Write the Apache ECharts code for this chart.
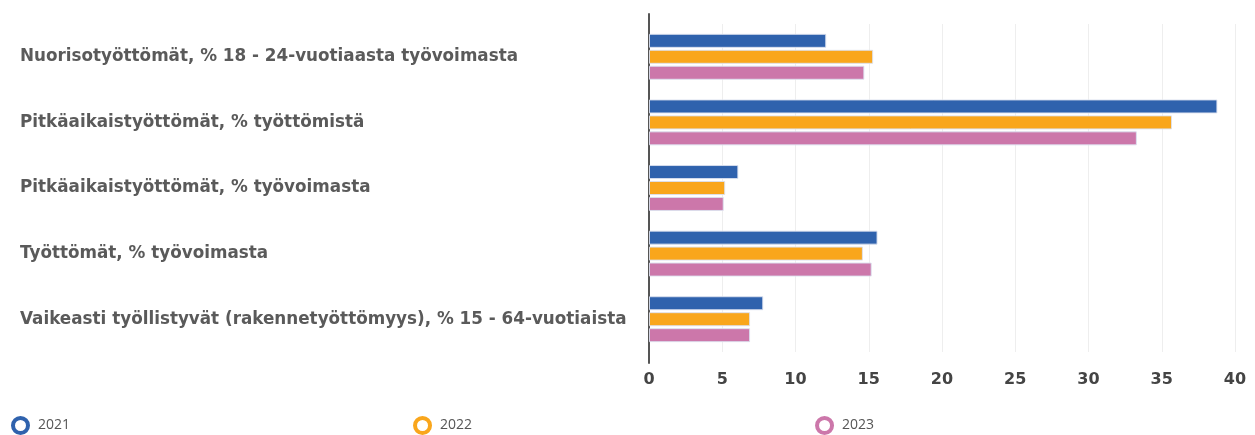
<!DOCTYPE html>
<html lang="fi">
<head>
<meta charset="UTF-8">
<title>Työttömyys</title>
<script src="https://cdn.jsdelivr.net/npm/echarts@6/dist/echarts.min.js"></script>
</head>
<body style="margin:0">
<div id="chart" style="width:1255px;height:435px"></div>
<script>
    // categories, top to bottom
    let categories = [
        'Nuorisotyöttömät, % 18 - 24-vuotiaasta työvoimasta',
        'Pitkäaikaistyöttömät, % työttömistä',
        'Pitkäaikaistyöttömät, % työvoimasta',
        'Työttömät, % työvoimasta',
        'Vaikeasti työllistyvät (rakennetyöttömyys), % 15 - 64-vuotiaista'
    ];
    let years = ['2021', '2022', '2023'];
    let v2021 = [12.1, 38.8, 6.1, 15.6, 7.8];
    let v2022 = [15.3, 35.7, 5.2, 14.6, 6.9];
    let v2023 = [14.7, 33.3, 5.1, 15.2, 6.9];
    let colors = ['#2f62ad', '#f9a61c', '#cc77aa'];

    let myChart = echarts.init(document.getElementById('chart'));

    let series = [v2021, v2022, v2023].map(function (vals, i) {
        return {
            name: years[i],
            type: 'bar',
            data: vals,
            barWidth: 14,
            barGap: '14%',
            itemStyle: {color: colors[i], borderColor: 'rgba(220,225,240,0.9)', borderWidth: 1}
        };
    });

    let option = {
        animation: false,
        textStyle: {fontFamily: 'DejaVu Sans'},
        grid: [
            {left: 649, right: 20, top: 24, bottom: 83},
            // only used for the longer left axis line
            {left: 649, right: 20, top: 14, bottom: 72}
        ],
        legend: {
            data: years.map(function (y, i) {
                return {name: y, itemStyle: {color: '#fff', borderColor: colors[i], borderWidth: 4}};
            }),
            icon: 'circle',
            itemWidth: 25,
            itemHeight: 15,
            left: 6,
            top: 411,
            itemGap: 343,
            textStyle: {fontFamily: 'Open Sans', fontSize: 14, color: '#555'}
        },
        xAxis: [{
            type: 'value',
            min: 0,
            max: 40,
            interval: 5,
            axisLine: {show: false},
            axisTick: {show: false},
            splitLine: {lineStyle: {color: '#eeeeee'}},
            axisLabel: {fontSize: 16, fontWeight: 'bold', color: '#444', margin: 20}
        }, {
            gridIndex: 1,
            type: 'value',
            show: false
        }],
        yAxis: [{
            type: 'category',
            inverse: true,
            data: categories,
            axisLine: {show: false},
            axisTick: {show: false},
            axisLabel: {
                align: 'left',
                margin: 629,
                fontSize: 16.8,
                fontWeight: 'bold',
                color: '#5a5a5a'
            }
        }, {
            gridIndex: 1,
            type: 'value',
            axisLine: {show: true, lineStyle: {color: '#555', width: 2}},
            axisTick: {show: false},
            axisLabel: {show: false},
            splitLine: {show: false}
        }],
        series: series
    };
    myChart.setOption(option);
</script>
</body>
</html>
